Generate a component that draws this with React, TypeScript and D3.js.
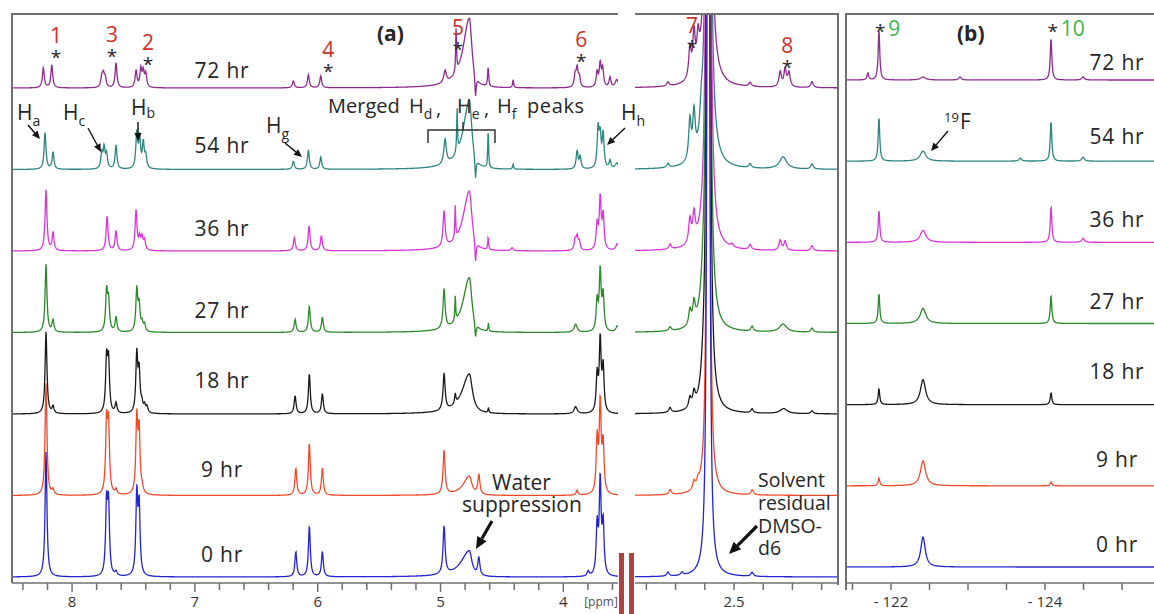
import React from 'react';
import * as d3 from 'd3';

type Peak = number[]; // [ppm, height, half width (left side), half width (right side)]

const hours = ['72 hr', '54 hr', '36 hr', '27 hr', '18 hr', '9 hr', '0 hr'];
const traceColors = ['#8E2C8E', '#2E8580', '#D935D9', '#2A8A2A', '#1A1A1A', '#F04A2A', '#2424D0'];

// 1H spectrum, 8.5 - 3.55 ppm
const left72: Peak[] = [
  [8.234, 20], [8.165, 23], [7.758, 10], [7.745, 12], [7.73, 9], [7.642, 25],
  [7.479, 17], [7.44, 18], [7.42, 15], [7.4, 13], [6.198, 7], [6.076, 13], [5.975, 12],
  [4.963, 12, 0.012], [4.873, 46, 0.004], [4.765, 70, 0.06, 0.025], [4.715, -22, 0.006],
  [4.612, 20, 0.005], [4.409, 8, 0.005], [3.904, 12], [3.888, 18], [3.87, 10],
  [3.725, 15], [3.7, 23], [3.68, 18], [3.62, 10], [3.565, 8, 0.015],
];
const left54: Peak[] = [
  [8.22, 37], [8.155, 17], [7.758, 15], [7.739, 20], [7.719, 14], [7.642, 24],
  [7.473, 35], [7.45, 30], [7.42, 25], [7.4, 12], [6.198, 8], [6.076, 19], [5.975, 12],
  [4.963, 25, 0.012], [4.865, 44, 0.004], [4.765, 69, 0.06, 0.025], [4.715, -22, 0.006],
  [4.612, 39, 0.004], [4.409, 5, 0.005], [3.888, 18], [3.863, 12],
  [3.717, 39], [3.7, 30], [3.676, 34], [3.62, 8], [3.565, 6, 0.015],
];
const left36: Peak[] = [
  [8.212, 61], [8.155, 18], [7.715, 35], [7.642, 20], [7.479, 40], [7.45, 12], [7.43, 12], [7.41, 10],
  [6.19, 13], [6.07, 25], [5.97, 15],
  [4.971, 36, 0.01], [4.88, 33, 0.004], [4.765, 60, 0.06, 0.025], [4.715, -22, 0.006],
  [4.612, 13, 0.004], [4.417, 3], [3.904, 10], [3.888, 13], [3.87, 8],
  [3.725, 25], [3.7, 51], [3.676, 34], [3.56, 7, 0.015],
];
const left27: Peak[] = [
  [8.212, 68], [8.155, 12], [7.719, 40], [7.703, 30], [7.642, 15], [7.473, 42], [7.454, 25], [7.43, 8], [7.41, 7],
  [6.184, 13], [6.068, 26], [5.962, 15],
  [4.971, 40, 0.01], [4.88, 25, 0.004], [4.765, 55, 0.06, 0.025], [4.715, -15, 0.006], [4.61, 8, 0.004],
  [3.9, 8, 0.015], [3.725, 30], [3.7, 60], [3.676, 36], [3.56, 6, 0.015],
];
const left18: Peak[] = [
  [8.212, 82], [8.155, 7], [7.719, 53], [7.703, 50], [7.642, 10], [7.473, 58], [7.454, 40], [7.432, 8], [7.41, 7], [7.39, 6],
  [6.184, 18], [6.068, 40], [5.962, 20],
  [4.971, 37, 0.01], [4.88, 10, 0.006], [4.765, 40, 0.07, 0.03], [4.61, 5, 0.004],
  [3.9, 7, 0.015], [3.725, 37], [3.7, 72], [3.676, 45],
];
const left9: Peak[] = [
  [8.212, 112], [8.155, 5], [7.719, 70], [7.703, 66], [7.642, 5], [7.473, 75], [7.454, 62], [7.43, 5],
  [6.178, 27], [6.068, 52], [5.962, 27],
  [4.971, 44, 0.01], [4.765, 19, 0.06, 0.025], [4.688, 20, 0.01],
  [3.888, 5], [3.725, 54], [3.7, 90], [3.676, 49],
];
const left0: Peak[] = [
  [8.212, 125], [7.719, 70], [7.703, 68], [7.642, 4], [7.473, 80], [7.454, 68],
  [6.178, 25], [6.068, 51], [5.962, 25],
  [4.971, 48, 0.01], [4.765, 26, 0.08, 0.025], [4.688, 18, 0.01],
  [3.798, 5], [3.725, 49], [3.7, 94], [3.676, 50],
];

// 1H spectrum around the DMSO-d6 signal
const right72: Peak[] = [[2.726, 4], [2.651, 30], [2.637, 41], [2.623, 30], [2.588, 2000, 0.0042], [2.445, 4], [2.342, 15], [2.325, 17], [2.312, 14], [2.233, 6]];
const right54: Peak[] = [[2.726, 4], [2.651, 40], [2.637, 44], [2.612, 25, 0.006], [2.588, 2000, 0.0042], [2.445, 4], [2.332, 12, 0.015], [2.233, 5]];
const right36: Peak[] = [[2.719, 5], [2.651, 24], [2.637, 27], [2.588, 2000, 0.004], [2.507, 3], [2.445, 5], [2.342, 10], [2.325, 9], [2.233, 5]];
const right27: Peak[] = [[2.719, 4], [2.651, 15], [2.637, 20], [2.606, 20, 0.008], [2.588, 2000, 0.0038], [2.438, 5], [2.332, 8, 0.015], [2.233, 4]];
const right18: Peak[] = [[2.719, 5], [2.651, 10], [2.637, 13], [2.606, 15, 0.008], [2.588, 2000, 0.0036], [2.438, 4], [2.33, 5, 0.015], [2.233, 3]];
const right9: Peak[] = [[2.719, 5], [2.637, 8], [2.623, 6], [2.588, 2000, 0.003], [2.438, 5]];
const right0: Peak[] = [[2.726, 4], [2.678, 3], [2.588, 2000, 0.003], [2.438, 4]];

// 19F spectrum
const fluor72: Peak[] = [[-121.7, 7], [-121.844, 50], [-122.416, 3, 0.04], [-122.896, 3, 0.02], [-124.078, 42], [-124.494, 3, 0.02]];
const fluor54: Peak[] = [[-121.844, 44], [-122.416, 10, 0.045], [-123.68, 3, 0.02], [-124.078, 40], [-124.494, 4, 0.02]];
const fluor36: Peak[] = [[-121.844, 32], [-122.416, 12, 0.045], [-124.078, 36], [-124.494, 4, 0.02]];
const fluor27: Peak[] = [[-121.844, 30], [-122.416, 15, 0.045], [-124.078, 28]];
const fluor18: Peak[] = [[-121.844, 16], [-122.416, 25, 0.04], [-124.078, 12]];
const fluor9: Peak[] = [[-121.844, 8], [-122.416, 25, 0.04], [-124.078, 4]];
const fluor0: Peak[] = [[-122.416, 30, 0.035]];

const leftPeaks = [left72, left54, left36, left27, left18, left9, left0];
const rightPeaks = [right72, right54, right36, right27, right18, right9, right0];
const fluorPeaks = [fluor72, fluor54, fluor36, fluor27, fluor18, fluor9, fluor0];

const leftTickLabels = [8, 7, 6, 5, 4];
const rightTickLabels = [2.5];
const fluorTickLabels = [-122, -124];

// numbered product peaks (red: 1H, green: 19F)
const productMarks = [
  { n: '1', part: 'L', ppm: 8.13, y: 43 },
  { n: '3', part: 'L', ppm: 7.674, y: 42 },
  { n: '2', part: 'L', ppm: 7.381, y: 50 },
  { n: '4', part: 'L', ppm: 5.915, y: 57 },
  { n: '5', part: 'L', ppm: 4.857, y: 35 },
  { n: '6', part: 'L', ppm: 3.855, y: 47 },
  { n: '7', part: 'R', ppm: 2.644, y: 33 },
  { n: '8', part: 'R', ppm: 2.318, y: 53 },
];
const fluorMarks = [
  { n: '9', ppm: -121.86 },
  { n: '10', ppm: -124.1 },
];

const labelNudge = [10, 17, 15, 15, 26, 19, 15];

const font = "'Open Sans', 'DejaVu Sans', sans-serif";
const frame = '#707070';
const ink = '#262626';

const xL = d3.scaleLinear().domain([8.489, 3.555]).range([12, 618]);
const xR = d3.scaleLinear().domain([2.839, 2.144]).range([635, 838]);
const xF = d3.scaleLinear().domain([-121.416, -125.415]).range([846, 1154]);
const yA = d3.scalePoint<string>().domain(hours).range([88, 577]);
const yB = d3.scalePoint<string>().domain(hours).range([80, 567]);
const amp = d3.scaleLinear().domain([0, 100]).range([0, 100]);

function intensity(peaks: Peak[], p: number, w0: number) {
  let v = 0;
  for (const pk of peaks) {
    const [c, h, wl = w0, wr = wl] = pk;
    const d = p - c;
    const w = d > 0 ? wl : wr;
    v += (h * w * w) / (w * w + d * d);
  }
  return v;
}

function tracePath(peaks: Peak[], x: d3.ScaleLinear<number, number>, base: number, w0: number, step: number) {
  const [r0, r1] = x.range();
  const ppms = d3.range(r0, r1 + step / 2, step).map((px) => x.invert(px));
  const line = d3
    .line<number>()
    .x((p) => x(p))
    .y((p) => base - amp(intensity(peaks, p, w0)));
  return line(ppms) || '';
}

function Arrow({ x1, y1, x2, y2, w = 1.4, head = 8 }: any) {
  const a = Math.atan2(y2 - y1, x2 - x1);
  const bx = x2 - head * Math.cos(a);
  const by = y2 - head * Math.sin(a);
  const hw = head * 0.45;
  const pts = [
    [x2, y2],
    [bx + hw * Math.sin(a), by - hw * Math.cos(a)],
    [bx - hw * Math.sin(a), by + hw * Math.cos(a)],
  ];
  return (
    <g>
      <line x1={x1} y1={y1} x2={bx} y2={by} stroke="#111" strokeWidth={w} />
      <polygon points={pts.map((p) => p.join(',')).join(' ')} fill="#111" />
    </g>
  );
}

function Sub({ x, y, main, sub, size = 21 }: any) {
  return (
    <text x={x} y={y} fontSize={size} fill={ink} fontFamily={font}>
      {main}
      <tspan fontSize={14} dy={6}>{sub}</tspan>
    </text>
  );
}

export default function App() {
  const axisY = 583;
  return (
    <svg width={1154} height={614} style={{ position: 'absolute', left: 0, top: 0, background: '#fff' }} fontFamily={font}>
      <defs>
        <clipPath id="clipL"><rect x={12} y={15} width={606} height={568} /></clipPath>
        <clipPath id="clipR"><rect x={635} y={15} width={203} height={568} /></clipPath>
        <clipPath id="clipF"><rect x={846} y={15} width={308} height={568} /></clipPath>
      </defs>

      {/* spectra */}
      <g clipPath="url(#clipL)">
        {hours.map((h, i) => (
          <path key={h} d={tracePath(leftPeaks[i], xL, yA(h)!, 0.009, 0.4)} fill="none" stroke={traceColors[i]} strokeWidth={1.3} />
        ))}
      </g>
      <g clipPath="url(#clipR)">
        {hours.map((h, i) => (
          <path key={h} d={tracePath(rightPeaks[i], xR, yA(h)!, 0.005, 0.2)} fill="none" stroke={traceColors[i]} strokeWidth={1.3} />
        ))}
      </g>
      <g clipPath="url(#clipF)">
        {hours.map((h, i) => (
          <path key={h} d={tracePath(fluorPeaks[i], xF, yB(h)!, 0.012, 0.4)} fill="none" stroke={traceColors[i]} strokeWidth={1.3} />
        ))}
      </g>

      {/* frames */}
      <g fill="none" stroke={frame} strokeWidth={2}>
        <path d={`M12,${axisY} V14 H618`} />
        <path d={`M12,${axisY} H618`} strokeWidth={1.5} />
        <path d={`M635,14 H838 V${axisY + 2}`} />
        <path d={`M635,${axisY} H838`} strokeWidth={1.5} />
        <path d={`M846,590 V14 H1154`} />
        <path d={`M846,${axisY} H1154`} strokeWidth={1.5} />
      </g>

      {/* axes ticks */}
      <g stroke={frame} strokeWidth={1.5}>
        {xL.ticks(25).map((t) => (
          <line key={'l' + t} x1={xL(t)} x2={xL(t)} y1={axisY} y2={axisY + (leftTickLabels.includes(t) ? 9 : 7)} />
        ))}
        {xR.ticks(7).map((t) => (
          <line key={'r' + t} x1={xR(t)} x2={xR(t)} y1={axisY} y2={axisY + 7} />
        ))}
        {xF.ticks(8).map((t) => (
          <line key={'f' + t} x1={xF(t)} x2={xF(t)} y1={axisY} y2={axisY + 7} />
        ))}
      </g>
      <g fontSize={15} fill="#333" textAnchor="middle">
        {leftTickLabels.map((t) => (
          <text key={t} x={xL(t)} y={607}>{t}</text>
        ))}
        {rightTickLabels.map((t) => (
          <text key={t} x={xR(t)} y={607}>{t}</text>
        ))}
        {fluorTickLabels.map((t) => (
          <text key={t} x={xF(t)} y={607}>{`- ${Math.abs(t)}`}</text>
        ))}
        <text x={601} y={606} fontSize={12} fill="#555">[ppm]</text>
      </g>

      {/* axis break */}
      <rect x={619} y={553} width={5} height={61} fill="#B0413E" />
      <rect x={629} y={553} width={5} height={61} fill="#B0413E" />

      {/* time labels */}
      <g fontSize={21} fill={ink} textAnchor="middle" letterSpacing={0.8}>
        {hours.map((h, i) => (
          <text key={'a' + h} x={222} y={yA(h)! - labelNudge[i]}>{h}</text>
        ))}
        {hours.map((h, i) => (
          <text key={'b' + h} x={1117} y={yB(h)! - labelNudge[i]}>{h}</text>
        ))}
      </g>

      {/* panel labels */}
      <text x={377} y={41} fontSize={21} fontWeight="bold" fill={ink}>(a)</text>
      <text x={957} y={41} fontSize={21} fontWeight="bold" fill={ink}>(b)</text>

      {/* product peak markers */}
      {productMarks.map((m) => {
        const x = m.part === 'L' ? xL(m.ppm) : xR(m.ppm);
        return (
          <g key={m.n} textAnchor="middle">
            <text x={x} y={m.y} fontSize={21} fill="#CF2F2A">{m.n}</text>
            <text x={x} y={m.y + 21} fontSize={19} fill={ink}>*</text>
          </g>
        );
      })}
      {fluorMarks.map((m) => (
        <g key={m.n}>
          <text x={xF(m.ppm)} y={38} fontSize={19} fill={ink} textAnchor="middle">*</text>
          <text x={xF(m.ppm) + 8} y={36} fontSize={21} fill="#3DB54A">{m.n}</text>
        </g>
      ))}

      {/* proton assignments */}
      <Sub x={17} y={120} main="H" sub="a" />
      <Arrow x1={28} y1={125} x2={40} y2={139} />
      <Sub x={63} y={120} main="H" sub="c" />
      <Arrow x1={88} y1={128} x2={101} y2={152} />
      <text x={131} y={115} fontSize={21} fill={ink}>H<tspan fontSize={14} dy={3}>b</tspan></text>
      <Arrow x1={138} y1={122} x2={138} y2={141} />
      <Sub x={266} y={133} main="H" sub="g" />
      <Arrow x1={285} y1={143} x2={302} y2={157} />
      <Sub x={621} y={120} main="H" sub="h" />
      <Arrow x1={625} y1={128} x2={607} y2={145} />

      <g fill={ink}>
        <text x={328} y={113} fontSize={20}>Merged</text>
        <Sub x={409} y={113} main="H" sub="d" size={20} />
        <text x={436} y={115} fontSize={20}>,</text>
        <Sub x={457} y={113} main="H" sub="e" size={20} />
        <text x={484} y={115} fontSize={20}>,</text>
        <Sub x={497} y={113} main="H" sub="f" size={20} />
        <text x={527} y={113} fontSize={20} letterSpacing={0.6}>peaks</text>
      </g>
      <path d="M428,143 V130 H495 V143 M463,130 V122" fill="none" stroke="#333" strokeWidth={1.5} />

      {/* 19F */}
      <text x={944} y={122} fontSize={13} fill={ink}>19</text>
      <text x={960} y={129} fontSize={21} fill={ink}>F</text>
      <Arrow x1={948} y1={131} x2={931} y2={151} />

      {/* water / solvent notes */}
      <g fontSize={21} fill={ink}>
        <text x={492} y={490}>Water</text>
        <text x={462} y={512}>suppression</text>
      </g>
      <Arrow x1={492} y1={521} x2={476} y2={549} w={3.2} head={12} />
      <g fontSize={19.5} fill={ink}>
        <text x={758} y={487}>Solvent</text>
        <text x={758} y={510}>residual</text>
        <text x={758} y={533}>DMSO-</text>
        <text x={758} y={555}>d6</text>
      </g>
      <Arrow x1={757} y1={526} x2={729} y2={554} w={3.2} head={12} />
    </svg>
  );
}
